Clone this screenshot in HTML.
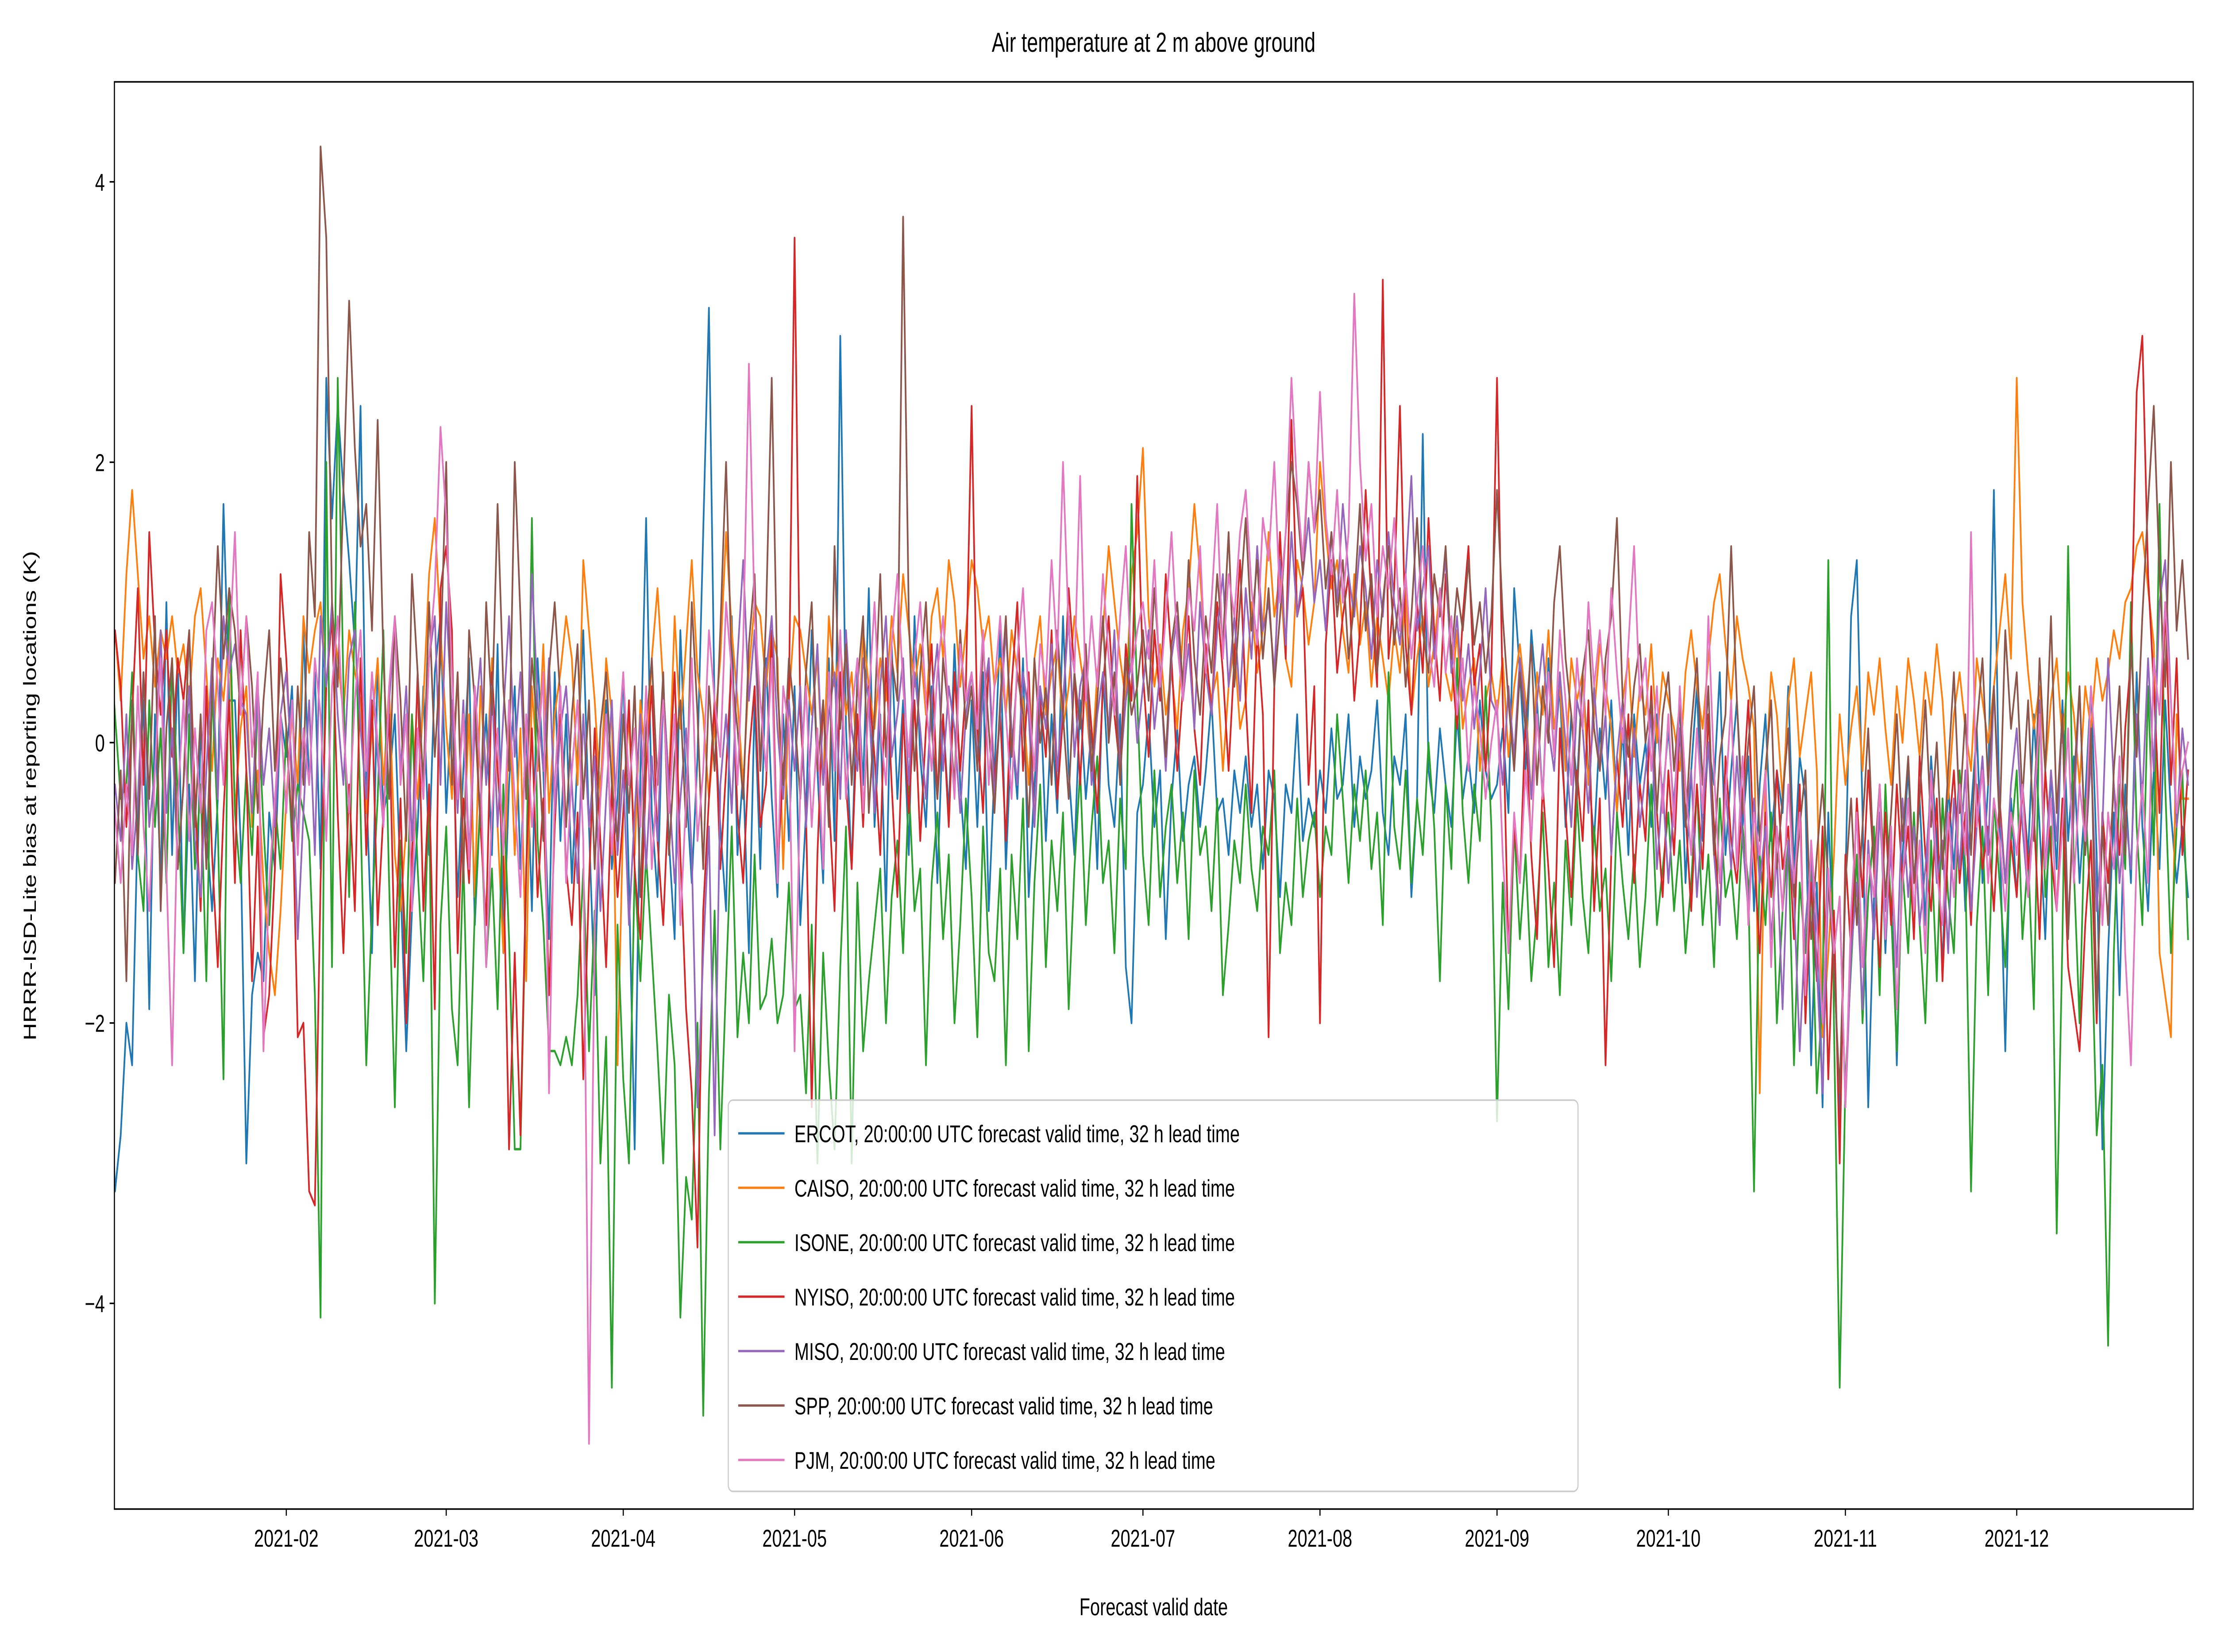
<!DOCTYPE html>
<html><head><meta charset="utf-8"><style>
html,body{margin:0;padding:0;background:#fff;width:100%;height:100%;overflow:hidden;}
svg{display:block;width:100vw;height:100vh;font-family:"Liberation Sans","DejaVu Sans",sans-serif;}
</style></head><body>
<svg id="chart" viewBox="0 0 6925 3733" preserveAspectRatio="none" xmlns="http://www.w3.org/2000/svg">
<rect width="6925" height="3733" fill="#fff"/>
<text x="3610" y="117" font-size="62" text-anchor="middle">Air temperature at 2 m above ground</text>
<text x="3610" y="3650" font-size="55" text-anchor="middle">Forecast valid date</text>
<text transform="translate(112,1798) rotate(-90)" font-size="55" text-anchor="middle">HRRR-ISD-Lite bias at reporting locations (K)</text>
<defs><clipPath id="plotclip"><rect x="358" y="185" width="6505" height="3225"/></clipPath></defs>
<g id="series" clip-path="url(#plotclip)"></g>
<g id="axes"></g>
<g id="legend"></g>
</svg>
<script>
const ercot=[-2.0,-3.2,-2.8,-2.0,-2.3,-.5,.3,-1.9,.2,-1.0,1.0,-.8,.6,-1.5,-.3,-1.7,.1,-.6,-1.2,-.4,1.7,.3,.3,-.7,-3.0,-1.8,-1.5,-1.7,-.5,-.9,.2,
-.1,.4,-.8,.8,-.3,.5,-.9,2.6,1.6,2.4,1.8,1.3,.7,2.4,-.3,-1.5,.6,-.5,-.3,.2,-1.0,-2.2,-1.2,-.6,.4,-.8,.5,.9,
-.5,.3,-1.1,-.2,.6,-1.3,-.4,.2,-.8,.7,-1.5,-.3,.4,-.9,.1,-1.2,.6,-.2,-1.4,.5,-.7,.2,-1.0,-.1,.8,-.6,-1.8,-.3,.3,-.9,-.4,
.5,-1.0,-2.9,-.2,1.6,-.5,-1.1,.4,-.7,-1.4,.8,-.3,-1.0,-.1,1.5,3.1,.2,-.6,-1.2,.9,-.8,-.2,-1.5,.3,-.9,.6,-.4,-1.1,.2,-.7,
.4,-1.3,-.5,.8,-.2,-1.0,.6,-.7,2.9,.1,-.9,.5,-.3,1.1,-.6,.2,-1.2,.7,-.4,.3,-.8,.9,-.1,-.6,.4,-1.0,.2,-.5,.7,-.3,-.9,
.3,-.6,.5,-1.2,-.2,.8,-.9,.1,-.4,.6,-1.1,-.3,.4,-.7,.2,-.5,.9,-.2,-.8,.3,-.4,.1,-.9,.5,-.3,-.6,.2,-1.6,-2.0,-.5,
-.3,.2,-.6,-.2,-1.4,-.4,.1,-.7,-.3,-.1,-.6,-.2,.3,-.5,-.4,-.8,-.2,-.5,-.1,-.6,-.3,-.9,-.2,-.4,-1.1,-.3,-.5,.2,-.7,-.4,-.6,
-.2,-.5,.1,-.4,-.3,.2,-.6,-.1,-.4,-.2,.3,-.5,-.8,-.1,-.3,.2,-1.1,-.4,2.2,-.2,-.5,.1,-.3,-.6,.2,-.4,-.1,-.5,.3,-.2,-.4,
-.3,.1,-.5,1.1,.5,-.2,.8,.3,-.4,.6,-.1,.4,-.6,.2,-.3,.5,-.2,-.7,.1,-.4,.3,-.5,.1,-.8,.2,-.3,0,-.6,.2,-.4,
.1,-.5,.3,-1.0,-.2,.4,-.7,0,-.3,.5,-.8,-.2,.3,-.6,-.1,-1.2,-.3,.2,-.7,-.2,-.5,.4,-.9,-.1,-.4,-2.3,-1.0,-2.6,-.5,-1.5,-2.7,
-1.0,.9,1.3,-.5,-2.6,-1.1,-.3,-1.5,-.6,-2.3,-.8,-.2,-1.0,-.4,-1.3,-.1,-.7,-1.6,-.3,-.9,-.2,-1.2,-.5,.1,-1.0,-.3,1.8,-.6,-2.2,-.4,
-1.1,-.3,-.8,.2,-.6,-1.4,-.2,-.9,.3,-.7,-.1,-1.0,-.4,.4,-.8,-2.9,-1.5,-.5,-1.8,-.3,-1.0,.5,-.6,-1.2,-.2,-.9,.3,-.5,-1.0,-.6,-1.1];
const caiso=[.7,.8,.3,1.2,1.8,1.2,.6,.9,.4,.8,.6,.9,.5,.7,.3,.9,1.1,.5,-.2,.6,.3,.8,-.5,.1,.4,-.6,-.2,-1.0,-1.5,-1.8,-1.2,
-.4,.2,-.3,.9,.5,.8,1.0,.4,.9,.6,.2,.8,.5,.3,-.5,.1,.6,-.3,.4,-.8,-1.2,-.6,.2,-.4,.3,1.2,1.6,.8,
.1,-.4,.5,-.8,.2,-1.1,.4,-.3,.6,-.6,-1.5,.3,-.8,.1,-1.7,.4,-.2,.7,-.5,.2,.5,.9,.6,-.3,1.3,.8,.3,-.4,.6,.2,-2.3,
-.5,.2,-.8,.3,-.2,.6,1.1,.4,-.3,.9,.1,.7,1.3,.5,.2,-.4,.1,.6,1.5,.8,.3,-.3,.5,1.0,.9,.4,.8,.6,-.9,.3,
.9,.8,.5,.2,.6,-.3,.9,.4,.7,.2,.5,-.2,.8,.4,.1,.6,.3,.9,.5,1.2,.8,.4,.7,.2,.9,1.1,.6,1.3,1.0,.4,.8,
1.3,1.1,.7,.9,.4,.6,.2,.8,.5,.3,-.3,.6,.9,.2,.5,.7,.1,.4,.9,.6,.3,-.2,.5,.8,1.4,1.0,.6,.3,1.2,1.5,
2.1,.9,.4,.7,.2,.5,.1,.8,1.1,1.7,1.2,.6,.3,.5,-.2,.4,.7,.1,.3,1.0,.5,.8,1.5,.9,1.2,.6,.4,1.3,1.1,.7,1.0,
2.0,1.5,1.1,1.3,.8,.5,1.2,.7,1.0,.4,.9,.6,.3,.8,.5,1.1,.2,.6,.9,.4,.7,1.1,.5,.3,.8,.1,.4,.6,-.2,.3,.5,
.2,.6,-.1,.4,.7,.3,-.4,.5,.2,.8,.1,.4,-.2,.6,.3,.5,-.3,.2,.7,.4,.1,-.5,.3,.6,-.1,.4,.2,.7,0,.5,
.3,.1,-.2,.5,.8,.4,.1,.6,1.0,1.2,.7,.3,.9,.6,.4,.1,-2.5,-.3,.5,.2,-.4,.3,.6,-.1,.2,.5,-.2,-2.1,-1.5,-.8,.2,
-.3,.1,.4,-.2,.5,.2,.6,.1,-.3,.4,0,.6,.3,-.1,.5,.2,.7,.3,-.4,.2,.5,.1,-.2,.6,.3,0,.4,.8,1.2,.6,
2.6,1.0,.5,.1,.4,-.2,.3,.6,0,.5,.2,-.3,.4,.1,.6,.3,.5,.8,.6,1.0,1.1,1.4,1.5,1.1,.7,-1.5,-1.8,-2.1,.2,-.4,-.4];
const isone=[.8,.2,-.4,-.3,.5,-.8,-1.2,.3,-.6,.1,-1.0,.6,-.4,-1.5,.2,-.9,-.3,-1.7,.4,-.6,-2.4,1.1,-.5,-1.0,-.2,-.8,.3,-.6,-1.3,-.4,-.9,
.1,-.7,-.3,-.5,-.7,-1.8,-4.1,2.0,-1.6,2.6,.4,-1.1,1.0,-.5,-2.3,-1.2,-.4,.8,-1.0,-2.6,-.7,-1.5,.2,-.9,-1.7,-.3,-4.0,-1.3,
-.6,-1.9,-2.3,-.8,-2.6,-1.2,-.4,-1.6,-.9,-1.9,-.3,-1.4,-2.9,-2.9,-1.0,1.6,-.7,-1.3,-2.2,-2.2,-2.3,-2.1,-2.3,-1.8,-.9,-2.2,-1.2,-3.0,-2.1,-4.6,-1.3,
-2.4,-3.0,-.9,-1.7,-.8,-1.5,-2.2,-3.0,-1.8,-2.3,-4.1,-3.1,-3.4,-2.0,-4.8,-2.5,-1.2,-2.9,-1.7,-.6,-2.1,-1.5,-2.0,-.8,-1.9,-1.8,-1.4,-2.0,-1.8,-1.0,
-1.9,-1.8,-2.5,-1.3,-3.0,-1.5,-2.3,-2.9,-1.6,-.6,-3.0,-1.0,-2.2,-1.7,-1.3,-.9,-2.0,-1.1,-.7,-1.5,-.3,-1.2,-.9,-2.3,-1.0,-.5,-1.4,-.8,-2.0,-1.3,-.4,
-1.1,-2.1,-.6,-1.5,-1.7,-.9,-2.3,-.8,-1.4,-.4,-2.2,-1.0,-.3,-1.6,-.7,-1.2,-.5,-1.9,-.9,-.2,-1.3,-.6,-.1,-1.0,-.7,-1.5,-.4,-.9,1.7,.3,
-.8,-1.3,-.2,-1.1,-.6,-.3,-1.0,-.5,-1.4,-.2,-.8,-.6,-1.2,-.4,-1.8,-1.3,-.7,-1.0,-.3,-.9,-1.2,-.6,-.8,-.2,-1.5,-1.0,-1.3,-.4,-1.1,-.7,-.5,
-1.1,-.6,-.8,.2,-.4,-1.0,-.3,-.7,-.2,-.9,-.5,-1.3,.5,-.6,-.9,-.2,-1.0,-.4,-.8,0,-.6,-1.7,-.3,-.9,.6,-.5,-1.0,-.3,-.7,.4,-.6,
-2.7,-1.0,-1.9,-.6,-1.4,-.8,-1.7,-1.2,-.5,-1.6,-1.0,-1.8,-.7,-1.3,-.4,-1.1,-1.5,-.6,-1.2,-.9,-1.7,-.5,-1.0,-1.4,-.8,-1.6,-1.1,-.3,-1.3,-.9,
-.5,-1.2,-.7,-1.5,-1.0,-.3,-1.3,-.8,-1.6,-.4,-1.1,-.9,-1.4,-.6,-1.0,-3.2,-.8,-1.3,-.5,-2.0,-1.2,-.7,-2.3,-1.0,-1.5,-.9,-2.5,-1.8,1.3,-2.0,-4.6,
-2.4,-1.6,-.8,-2.0,-1.1,-.6,-1.8,-.3,-1.2,-2.2,-.9,-1.5,-.5,-1.3,-2.0,-.7,-1.7,-.4,-1.1,-1.5,-.2,-.9,-3.2,-1.3,-.6,-1.8,-.4,-1.0,-1.6,-.7,
-.2,-1.4,-.8,-1.9,.3,-1.1,-.6,-3.5,-1.4,1.4,-.9,-2.0,-.4,-1.2,-2.8,-2.3,-4.3,-1.5,-.3,-.9,1.0,-.6,-1.3,.4,-.8,1.7,-.3,-1.5,-.6,-.2,-1.4];
const nyiso=[.1,.8,.4,-.6,.2,1.1,-.3,1.5,.7,.2,.8,-.1,.6,.3,.8,-.4,-1.2,.4,-.8,-1.6,-.5,.3,-1.0,.8,-.2,-1.7,-.6,-2.1,-1.8,-.9,1.2,
.6,-.3,-2.1,-2.0,-3.2,-3.3,-1.0,.4,.9,-.5,-1.5,-.3,-1.2,.6,-.8,.3,-1.3,-.5,.2,-1.6,-.4,-2.0,-.8,.5,-1.2,-.3,-1.9,1.1,
1.4,.8,-1.5,-.4,-1.0,.2,-.6,-1.3,.5,-.2,-.8,-2.9,-1.5,-2.8,-.9,.1,-1.1,-.4,-1.8,-.6,.2,-.9,-1.3,-.5,-2.4,-1.0,.1,-.7,-1.6,-.3,-1.1,
-.5,.3,-.9,-1.4,-.2,.4,-.7,-1.3,-.3,.5,-.8,-1.9,-2.5,-3.6,-1.2,-.4,.3,-.9,-.2,.6,-.5,-1.0,-.1,.4,-.6,-.3,.8,-.9,-.2,.3,
3.6,.2,-.5,-2.6,-.8,.3,-.4,-1.2,.5,-.3,-.9,.2,-.6,.4,-.1,-.8,.6,-.3,-1.1,.2,-.5,.3,-.7,.1,.7,-.4,.2,-.6,.5,-.2,.4,
2.4,.1,-.5,.6,-.3,.2,-.7,.4,1.0,-.2,.5,-.6,.3,-.1,.8,-.4,.2,1.1,.5,-.3,.6,.1,-.5,.4,.9,.2,-.2,.7,.3,1.9,
.5,-.1,.8,.3,1.2,.6,-.2,.4,.9,.1,-.3,.7,.2,1.0,.5,-.2,.6,1.3,.3,-.5,.8,.2,-2.1,.4,1.5,.6,2.3,.9,1.1,-.3,.4,
-2.0,.7,1.3,.5,.9,1.2,.3,.8,1.8,1.0,.4,3.3,.6,1.1,2.4,.7,.2,1.0,.5,1.6,.8,.3,1.2,.6,.1,.9,1.4,.4,.7,-.2,.5,
2.6,.3,-1.5,-.6,-1.0,.2,-.8,-1.4,-.3,-.9,-1.6,.1,-.5,-1.1,-.2,-.7,.3,-1.2,-.4,-2.3,-.8,-.1,-.6,.2,-1.0,-.3,-.7,.4,-.5,-1.1,
-.2,-.8,.1,-.5,-1.2,-.3,-.9,.2,-.6,-1.3,-.1,-.7,-1.0,-.4,.3,-.8,-1.5,-.5,-1.1,-.2,-.9,-.6,-1.4,-.3,-2.0,-1.0,-1.7,-.6,-2.4,-1.2,-3.0,
-.8,-1.5,-.4,-1.1,-.2,-.9,-1.6,-.5,-1.3,-.3,-1.0,-.6,-1.4,-.1,-.8,-1.2,-.4,-1.7,-.7,-.2,-1.0,-.5,-1.3,-.3,-.9,-.6,-1.2,-.4,-1.0,-.7,
-1.1,-.3,-.9,-.5,-1.4,-.2,-.8,-1.2,-.4,-1.6,-1.9,-2.2,-1.3,-.7,-2.0,-.5,-1.0,-.3,-.8,.1,.6,2.5,2.9,1.2,.4,-.5,1.0,-.3,.6,-.8,-.2];
const miso=[-.8,-.3,-.7,.2,-.9,-.4,.5,-.6,-.2,.8,-.5,.1,-.9,-.3,.4,-.7,-1.1,-.2,.6,-.4,.9,.5,.7,.3,.2,-.5,.4,-.3,.1,-.6,.2,
.5,-.2,-1.4,-.5,.3,-.8,.9,.4,1.0,.2,-.3,.6,.8,.1,-.4,.5,-.1,-.6,.3,.8,-.2,.4,-.7,.1,-.4,.6,.9,-.3,
1.0,.2,-.5,.3,-.8,.1,.6,-.3,.4,-.6,.2,.9,-.1,.5,-.4,1.2,.3,-.2,.6,-.5,.1,.4,-.3,-1.0,.2,-.6,-.1,-1.2,-.4,.3,-.8,
-.2,-1.3,-.5,.2,-.9,-.1,-.7,.4,-.3,-1.0,-.4,.1,-.8,-2.6,-1.5,-.6,-2.8,-.3,.2,-.5,.6,1.3,.3,.8,-.2,.5,.9,.1,-.4,.3,
-.2,.4,-.6,.1,.7,-.3,.2,.5,-.4,.8,.1,-.2,.6,.3,-.5,.4,.9,-.1,.2,.6,-.3,.5,.1,-.4,.3,.7,-.2,.4,.1,-.5,.2,
.5,-.1,.3,.6,-.4,.2,.8,.1,-.3,.5,.2,-.6,.4,.1,.7,-.2,.3,.9,-.1,.4,.6,-.3,.2,.5,.1,.8,-.2,.3,.6,0,
.4,.8,.1,.5,-.2,.6,.9,.3,.7,.1,1.0,.5,.2,.8,1.2,.4,.9,.3,1.1,.6,1.4,.8,1.0,.5,1.3,.7,1.5,.9,1.2,1.6,1.0,
1.3,.8,1.5,1.0,1.7,1.2,.9,1.4,1.1,.6,1.3,.9,1.5,1.0,.7,1.2,1.9,.8,1.1,1.4,.6,1.0,1.3,.5,.9,.3,.7,.1,.5,1.1,.3,
.2,-.3,.4,-.1,.6,.2,-.4,.3,.7,.1,-.2,.5,0,-.6,.3,.1,-.5,.4,-.2,.2,-.8,-.1,.3,-.4,.1,-.6,-.2,.2,-.9,-.3,
-1.0,-.4,.1,-.6,-.2,-1.1,-.5,0,-.8,-1.3,-.3,-.9,-.1,-.7,-1.2,-.4,-1.0,-.6,-1.4,-.8,-1.9,-.7,-1.1,-2.2,-1.3,-.8,-1.6,-2.5,-1.0,-1.5,-1.1,
-2.6,-1.5,-1.0,-1.9,-.7,-1.4,-.5,-1.2,-.8,-1.6,-.4,-1.1,-.6,-1.3,-.9,-.3,-1.0,-.7,-1.5,-.4,-.9,-.2,-1.2,-.6,-.1,-.8,.4,-.5,-1.0,-.3,
.1,-.6,-1.1,-.4,.3,-.9,-.2,-.7,.2,-1.3,-.5,.4,-.8,-.1,-1.2,-.6,.6,-.3,-1.0,-.5,-.9,.2,-.4,.6,-.2,1.0,1.3,.3,-.6,.1,-.3];
const spp=[-.5,-1.0,-.2,-1.7,.3,-.8,.5,-.4,.9,-1.2,.1,.6,-.9,-.3,.8,-.6,.2,-.9,.4,1.4,.6,1.1,.8,.2,.9,.4,-.5,.3,.8,-.2,.6,
.1,-.6,.4,-.3,1.5,.9,4.25,3.6,1.0,.4,1.8,3.15,2.1,1.4,1.7,.8,2.3,.6,-.4,.9,.3,-.7,1.2,.5,-.3,1.0,-.1,.6,
2.0,-.3,.5,-1.0,.8,.3,-.6,1.0,.2,1.7,.4,-.2,2.0,.9,-.4,.6,.1,-.7,.5,1.0,.3,-.6,.2,.7,-.4,.3,-.9,.1,.5,-.3,-.7,
.2,-.5,.4,-1.1,.1,.6,-.3,.5,-.8,-.1,.3,-.6,1.0,.2,-.9,.4,-.2,.8,2.0,.5,.1,-.4,.7,1.2,-.2,.9,2.6,.4,-.3,.6,
.2,-.4,.5,1.0,-.2,.3,-.6,1.4,.1,.7,-.3,.4,.9,-.5,.2,1.2,-.1,.6,.3,3.75,.9,-.2,.5,1.0,.1,-.4,.6,.2,-.3,.8,.1,
.4,-.2,.7,.1,-.5,.3,.9,-.1,.5,.2,-.6,.6,0,.4,-.3,.8,.2,-.4,.5,.1,.7,-.2,.3,.9,0,.5,-.3,.6,.2,.4,
.8,.3,1.1,.5,-.1,.7,1.0,.4,1.3,.6,.2,.9,.5,1.2,.7,1.5,.4,1.0,1.6,.8,1.3,.6,1.1,.4,.9,1.5,2.0,1.7,1.2,2.0,1.5,
1.8,1.1,1.5,.9,1.3,.6,1.0,1.7,.8,1.2,.5,1.0,1.4,.7,1.1,.4,.9,1.6,.8,.5,1.2,.9,1.4,.6,1.1,.8,1.3,.7,1.0,.5,.9,
1.8,.9,.3,-.2,.5,.1,.7,-.3,.4,0,1.0,1.4,.6,.2,-.4,.5,.8,.1,-.2,.6,.9,1.6,.3,-.1,.4,.7,0,.3,-.5,.2,
.5,-.2,.3,-.6,.1,.6,-.3,.4,-.8,-.1,.2,1.4,.3,-.5,0,.4,-.7,-.2,.3,-.9,-.4,.1,-1.1,-.6,-.2,-1.4,-.8,-.3,-1.0,-1.6,-2.5,
-1.0,-.4,-1.3,-.6,.1,-.9,-.3,-1.1,-.5,.2,-.7,-.1,-1.0,-.4,.3,-.6,0,-.9,-.2,.5,-.5,.2,-.8,.1,.6,-.3,.4,-.6,.8,.1,
.5,-.4,.3,-.7,.6,-.2,.9,-.5,.2,-1.4,-.3,.4,-.8,.1,-1.9,-.6,-1.3,-.2,.4,-.8,.7,-.1,.9,1.7,2.4,1.2,.4,2.0,.8,1.3,.6];
const pjm=[.1,-.5,-1.0,-.3,-.8,.4,-.6,-1.2,-.2,.6,-.9,-2.3,-.4,.3,-.7,.1,-.5,.8,1.0,.4,-.3,.6,1.5,.2,.9,-.1,.5,-2.2,-1.0,-.4,.2,
-.5,.3,-.8,.1,-.3,.6,.2,-.7,.4,.9,.1,-.5,.3,.8,-.2,.5,0,-.6,.4,.9,-.3,.2,-1.2,.1,-.4,.6,1.1,2.25,
1.6,.5,-.4,.2,-.9,.4,-.2,-1.6,-.5,.1,-.8,.3,-.4,-1.1,.2,-.6,-.1,.5,-2.5,-.3,.4,-1.0,-.2,.3,-.7,-5.0,-1.3,-.4,.2,-.8,-.1,
.5,-.3,.1,-.6,.4,-.9,-.2,.3,-.5,.2,-1.3,-.4,.6,-.7,-.2,.8,.3,-.1,1.0,.5,-.3,.7,2.7,.9,.3,-.2,.6,-1.0,.4,.1,
-2.2,-.3,.4,-.6,.1,-.9,.5,-.2,.8,-.4,.2,.6,-.5,.3,1.0,.1,-.3,.7,1.2,.4,-.1,.6,1.0,.3,-.2,.5,.9,.2,-.4,.7,.3,
.5,.1,.8,-.3,.4,.9,.2,-.4,.6,1.1,.3,-.2,.7,.4,1.3,.6,2.0,.8,.5,1.9,.3,.9,.4,1.2,.6,.2,.9,1.4,.5,.8,
1.0,.6,1.3,.4,.9,1.5,.7,.3,1.1,.8,1.4,.5,1.0,1.7,.6,1.2,.9,1.5,1.8,1.1,.7,1.6,1.3,2.0,1.0,1.5,2.6,1.8,1.3,2.0,1.5,
2.5,1.6,1.2,1.8,1.0,1.5,3.2,2.0,1.3,1.7,.9,1.4,1.1,1.6,.8,1.2,.6,1.0,1.4,.7,.4,1.1,.5,.9,.2,.6,-.2,.4,.1,-.4,0,
.3,-.8,-1.5,-.5,-1.0,-.2,-.7,.2,-.4,.5,-.1,.8,.3,-.3,.6,.1,1.0,.4,.8,.2,1.1,.5,0,.7,1.4,.3,.6,-.2,.4,-.5,
.2,-.6,.4,-.3,-.8,.1,-.5,.9,-.2,-1.0,-.4,.3,-.9,-.1,-1.3,-.5,-.8,-.2,-1.6,-.6,-1.2,-.3,-1.0,-.5,-1.8,-.7,-1.3,-2.0,-.9,-1.5,-1.1,
-2.6,-1.2,-.5,-1.6,-.8,-1.1,-.3,-1.4,-.6,-1.9,-1.0,-.4,-1.2,-.7,-1.5,-.2,-.9,-1.3,-.5,-1.1,-.3,-.8,1.5,-.6,-.2,-1.0,-.4,-.7,-1.2,-.5,
-.8,-.3,-1.1,-.5,.2,-.9,-.4,-1.2,-.6,.1,-1.0,-.3,-.7,.4,-.2,-1.3,-.5,-.9,-.1,-1.5,-2.3,-.8,-.3,-1.0,.6,.2,1.0,.3,-.5,-.2,0];
const seriesNames=["ERCOT","CAISO","ISONE","NYISO","MISO","SPP","PJM"];
const seriesColors=["#1f77b4","#ff7f0e","#2ca02c","#d62728","#9467bd","#8c564b","#e377c2"];
const yTicks=[-4,-2,0,2,4];
const xTickDays=[31,59,90,120,151,181,212,243,273,304,334];
const xTickLabels=["2021-02","2021-03","2021-04","2021-05","2021-06","2021-07","2021-08","2021-09","2021-10","2021-11","2021-12"];

const NS="http://www.w3.org/2000/svg";
const L=358,R=6863,T=185,B=3410;
const xMin=0.9,xMax=364.9,yMin=-5.467,yMax=4.713;
function xs(d){return L+(d-xMin)/(xMax-xMin)*(R-L);}
function ys(v){return B-(v-yMin)/(yMax-yMin)*(B-T);}
function mk(tag,attrs,parent){const e=document.createElementNS(NS,tag);for(const k in attrs)e.setAttribute(k,attrs[k]);parent.appendChild(e);return e;}

const sg=document.getElementById('series');
const allData=[ercot,caiso,isone,nyiso,miso,spp,pjm];
allData.forEach((arr,si)=>{
  let d="";
  arr.forEach((v,i)=>{d+=(i?"L":"M")+xs(i).toFixed(1)+","+ys(v).toFixed(1);});
  const p=mk('path',{d:d,fill:'none',stroke:seriesColors[si],'stroke-width':5.3,'stroke-linejoin':'round','stroke-linecap':'square'},sg);
  
  
});

const ax=document.getElementById('axes');
const frame=mk('rect',{x:L,y:T,width:R-L,height:B-T,fill:'none',stroke:'#000','stroke-width':3.5},ax);


yTicks.forEach(v=>{
  const y=ys(v);
  const t=mk('line',{x1:L-15,x2:L,y1:y,y2:y,stroke:'#000','stroke-width':3.5},ax);
  
  
  const tx=mk('text',{x:L-30,y:y+20,'font-size':55,'text-anchor':'end'},ax);
  tx.textContent=v<0?"\u2212"+Math.abs(v):String(v);
  
  
});
xTickDays.forEach((d,i)=>{
  const x=xs(d);
  const t=mk('line',{x1:x,x2:x,y1:B,y2:B+15,stroke:'#000','stroke-width':3.5},ax);
  
  
  const tx=mk('text',{x:x,y:B+85,'font-size':55,'text-anchor':'middle'},ax);
  tx.textContent=xTickLabels[i];
  
  
});

const lg=document.getElementById('legend');


const box=mk('rect',{x:2279,y:2486,width:2659,height:884,rx:14,fill:'#fff','fill-opacity':0.8,stroke:'#cccccc','stroke-width':3.5},lg);


seriesNames.forEach((n,i)=>{
  const cy=2561+i*123;
  const g=mk('g',{},lg);
  
  
  mk('line',{x1:2310,x2:2455,y1:cy,y2:cy,stroke:seriesColors[i],'stroke-width':5.3},g);
  const tx=mk('text',{x:2486,y:cy+20,'font-size':55},g);
  tx.textContent=n+", 20:00:00 UTC forecast valid time, 32 h lead time";
});
</script>
</body></html>
